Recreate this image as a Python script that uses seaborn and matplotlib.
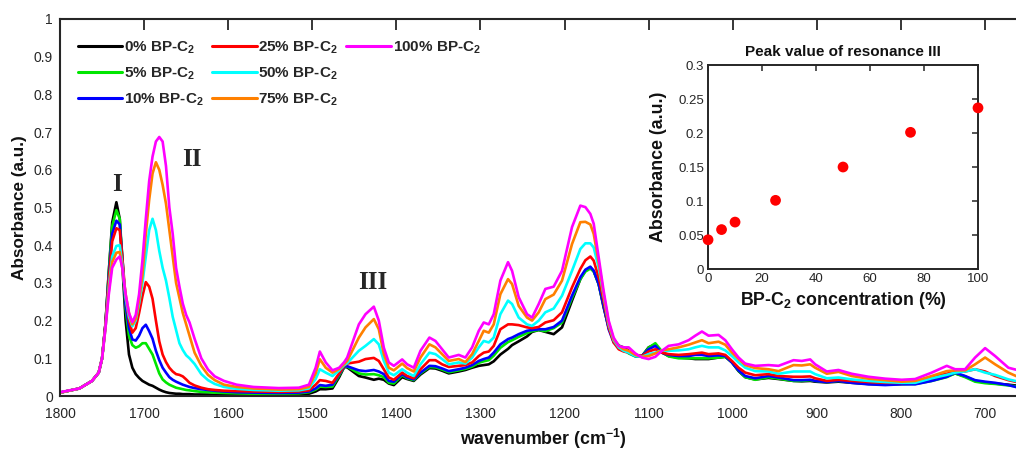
import matplotlib
matplotlib.use("Agg")
import matplotlib.pyplot as plt
from matplotlib.ticker import FuncFormatter, FixedLocator
from matplotlib.lines import Line2D
import seaborn as sns
import pandas as pd
import numpy as np

# ---------------- data ----------------
wavenumber = [
    1800, 1777, 1762, 1754, 1750, 1746, 1742, 1738, 1733, 1729, 1726, 1722, 1718, 1714, 1710,
    1706, 1702, 1698, 1694, 1690, 1686, 1682, 1678, 1674, 1670, 1666, 1662, 1658, 1654, 1650,
    1646, 1640, 1632, 1624, 1616, 1605, 1590, 1570, 1540,
    1516, 1504, 1496, 1491, 1484, 1476, 1468, 1462, 1458.5, 1444.6, 1436.7, 1426.8, 1420.9,
    1414.9, 1409, 1403, 1393.1, 1387.2, 1379.3, 1371.3, 1360.7, 1353.5, 1345.6, 1337.7, 1325.8,
    1317.9, 1309.9, 1302, 1296.1, 1290.1, 1284.2, 1276.3, 1267.2, 1262.4, 1254.5, 1244.6, 1238.6,
    1230.7, 1222.8,
    1212.9, 1203, 1191.1, 1181.2, 1175.2, 1169.3, 1165.3, 1159.4, 1153.5, 1147.5, 1141.6, 1135.6,
    1129.7, 1123.7, 1115.8, 1107.9, 1100, 1092, 1084.1, 1076.2, 1064.3, 1052.4, 1044.5, 1036.6,
    1028.7, 1016.8, 1008.8, 1000.9, 993, 985.1, 973.2,
    957.4, 945.5, 927.6, 917.8, 907.8, 901.9, 888.1, 874.2, 858.4, 838.5, 818.7, 799, 783, 763.3,
    745.4, 735.5, 723.6, 711.7, 699.8, 687.9, 672.1, 660,
]

abs_0 = [
    0.009, 0.02, 0.04, 0.062, 0.10, 0.19, 0.33, 0.46, 0.514, 0.47, 0.35, 0.20, 0.11, 0.075, 0.058,
    0.048, 0.04, 0.035, 0.03, 0.027, 0.022, 0.017, 0.013, 0.010, 0.008, 0.007, 0.006, 0.006, 0.005, 0.005,
    0.005, 0.004, 0.004, 0.004, 0.003, 0.003, 0.003, 0.003, 0.003,
    0.004, 0.006, 0.012, 0.018, 0.018, 0.02, 0.05, 0.077, 0.076, 0.053, 0.049, 0.043, 0.046,
    0.043, 0.033, 0.029, 0.05, 0.045, 0.04, 0.057, 0.074, 0.073, 0.067, 0.06, 0.065,
    0.069, 0.075, 0.08, 0.082, 0.084, 0.092, 0.11, 0.125, 0.135, 0.145, 0.158, 0.17,
    0.175, 0.17,
    0.164, 0.182, 0.253, 0.31, 0.333, 0.341, 0.332, 0.297, 0.235, 0.182, 0.148, 0.133,
    0.129, 0.12, 0.106, 0.106, 0.129, 0.137, 0.115, 0.106, 0.102, 0.1, 0.098, 0.098,
    0.098, 0.102, 0.104, 0.089, 0.066, 0.05, 0.044,
    0.048, 0.045, 0.04, 0.039, 0.04, 0.038, 0.036, 0.038, 0.035, 0.032, 0.031, 0.032, 0.033, 0.042,
    0.052, 0.06, 0.052, 0.04, 0.036, 0.033, 0.03, 0.027,
]
abs_5 = [
    0.009, 0.02, 0.04, 0.062, 0.10, 0.19, 0.33, 0.45, 0.493, 0.47, 0.37, 0.23, 0.16, 0.135, 0.128,
    0.132, 0.14, 0.14, 0.125, 0.11, 0.085, 0.06, 0.044, 0.036, 0.03, 0.026, 0.022, 0.02, 0.018, 0.016,
    0.015, 0.013, 0.011, 0.010, 0.009, 0.008, 0.007, 0.006, 0.006,
    0.007, 0.01, 0.017, 0.025, 0.024, 0.025, 0.055, 0.077, 0.078, 0.06, 0.057, 0.058, 0.055,
    0.05, 0.035, 0.033, 0.055, 0.047, 0.042, 0.06, 0.077, 0.076, 0.07, 0.063, 0.068,
    0.072, 0.078, 0.088, 0.092, 0.095, 0.107, 0.128, 0.143, 0.148, 0.157, 0.167, 0.172,
    0.175, 0.172,
    0.18, 0.195, 0.26, 0.31, 0.33, 0.338, 0.33, 0.297, 0.24, 0.182, 0.15, 0.135,
    0.125, 0.113, 0.105, 0.105, 0.128, 0.14, 0.118, 0.105, 0.1, 0.1, 0.1, 0.1,
    0.1, 0.102, 0.104, 0.09, 0.067, 0.05, 0.043,
    0.05, 0.046, 0.04, 0.04, 0.042, 0.04, 0.037, 0.04, 0.036, 0.033, 0.031, 0.032, 0.032, 0.04,
    0.05, 0.06, 0.05, 0.038, 0.034, 0.032, 0.028, 0.025,
]
abs_10 = [
    0.009, 0.02, 0.04, 0.062, 0.10, 0.19, 0.32, 0.43, 0.465, 0.455, 0.37, 0.24, 0.18, 0.15, 0.147,
    0.16, 0.18, 0.189, 0.172, 0.152, 0.12, 0.095, 0.075, 0.062, 0.05, 0.043, 0.038, 0.034, 0.030, 0.027,
    0.024, 0.021, 0.018, 0.016, 0.014, 0.012, 0.010, 0.009, 0.008,
    0.009, 0.012, 0.02, 0.029, 0.027, 0.03, 0.058, 0.078, 0.079, 0.068, 0.066, 0.069, 0.065,
    0.058, 0.04, 0.038, 0.058, 0.049, 0.044, 0.062, 0.08, 0.079, 0.073, 0.066, 0.071,
    0.075, 0.082, 0.093, 0.098, 0.102, 0.115, 0.137, 0.151, 0.155, 0.164, 0.173, 0.175,
    0.177, 0.177,
    0.183, 0.2, 0.266, 0.315, 0.335, 0.343, 0.332, 0.297, 0.239, 0.177, 0.142, 0.129,
    0.124, 0.115, 0.106, 0.106, 0.124, 0.133, 0.115, 0.109, 0.106, 0.106, 0.109, 0.109,
    0.106, 0.108, 0.106, 0.089, 0.068, 0.053, 0.047,
    0.053, 0.049, 0.042, 0.042, 0.043, 0.04, 0.037, 0.04, 0.035, 0.031, 0.029, 0.031, 0.031, 0.04,
    0.051, 0.062, 0.053, 0.042, 0.038, 0.035, 0.029, 0.022,
]
abs_25 = [
    0.009, 0.02, 0.04, 0.062, 0.10, 0.19, 0.31, 0.41, 0.445, 0.44, 0.37, 0.26, 0.20, 0.168, 0.18,
    0.22, 0.265, 0.302, 0.29, 0.258, 0.20, 0.145, 0.11, 0.09, 0.075, 0.065, 0.058, 0.056, 0.052, 0.044,
    0.035, 0.028, 0.022, 0.018, 0.016, 0.014, 0.013, 0.012, 0.011,
    0.012, 0.015, 0.03, 0.042, 0.04, 0.035, 0.06, 0.08, 0.086, 0.091, 0.098, 0.101, 0.093,
    0.071, 0.049, 0.043, 0.062, 0.053, 0.047, 0.071, 0.095, 0.095, 0.084, 0.077, 0.08,
    0.082, 0.089, 0.106, 0.115, 0.118, 0.133, 0.177, 0.19, 0.19, 0.188, 0.182, 0.18,
    0.183, 0.195,
    0.201, 0.222, 0.288, 0.337, 0.36, 0.37, 0.359, 0.315, 0.253, 0.182, 0.142, 0.124,
    0.118, 0.115, 0.109, 0.106, 0.118, 0.124, 0.115, 0.111, 0.109, 0.111, 0.113, 0.115,
    0.111, 0.113, 0.109, 0.093, 0.075, 0.062, 0.055,
    0.058, 0.053, 0.051, 0.051, 0.052, 0.047, 0.04, 0.043, 0.04, 0.037, 0.035, 0.035, 0.036, 0.051,
    0.059, 0.065, 0.065, 0.071, 0.065, 0.053, 0.042, 0.036,
]
abs_50 = [
    0.009, 0.02, 0.04, 0.062, 0.10, 0.18, 0.29, 0.37, 0.398, 0.40, 0.35, 0.26, 0.21, 0.185, 0.20,
    0.245, 0.30, 0.37, 0.44, 0.47, 0.44, 0.385, 0.34, 0.306, 0.26, 0.21, 0.175, 0.14, 0.122, 0.108,
    0.10, 0.085, 0.058, 0.042, 0.032, 0.024, 0.019, 0.016, 0.014,
    0.015, 0.02, 0.045, 0.071, 0.062, 0.053, 0.068, 0.082, 0.087, 0.12, 0.133, 0.151, 0.137,
    0.093, 0.062, 0.055, 0.071, 0.062, 0.053, 0.084, 0.115, 0.111, 0.098, 0.084, 0.089,
    0.086, 0.102, 0.129, 0.146, 0.142, 0.155, 0.217, 0.253, 0.244, 0.208, 0.19, 0.186,
    0.2, 0.222,
    0.232, 0.266, 0.332, 0.39, 0.405, 0.405, 0.394, 0.341, 0.266, 0.19, 0.148, 0.129,
    0.12, 0.115, 0.106, 0.104, 0.111, 0.115, 0.121, 0.12, 0.121, 0.124, 0.129, 0.133,
    0.129, 0.129, 0.121, 0.106, 0.089, 0.075, 0.066,
    0.065, 0.059, 0.065, 0.065, 0.065, 0.058, 0.047, 0.049, 0.044, 0.04, 0.037, 0.035, 0.035, 0.047,
    0.056, 0.062, 0.065, 0.071, 0.062, 0.056, 0.044, 0.038,
]
abs_75 = [
    0.009, 0.02, 0.04, 0.062, 0.10, 0.18, 0.28, 0.355, 0.38, 0.382, 0.34, 0.27, 0.22, 0.19, 0.205,
    0.255, 0.32, 0.43, 0.52, 0.59, 0.62, 0.60, 0.56, 0.51, 0.44, 0.37, 0.30, 0.26, 0.22, 0.19,
    0.16, 0.115, 0.08, 0.056, 0.042, 0.03, 0.024, 0.02, 0.017,
    0.018, 0.024, 0.06, 0.0975, 0.075, 0.062, 0.072, 0.085, 0.093, 0.155, 0.182, 0.204, 0.177,
    0.111, 0.075, 0.068, 0.086, 0.074, 0.065, 0.102, 0.137, 0.129, 0.111, 0.093, 0.098,
    0.09, 0.111, 0.146, 0.173, 0.168, 0.19, 0.27, 0.31, 0.297, 0.239, 0.208, 0.2,
    0.222, 0.257,
    0.269, 0.306, 0.403, 0.461, 0.462, 0.455, 0.43, 0.355, 0.27, 0.195, 0.151, 0.133,
    0.124, 0.12, 0.109, 0.104, 0.106, 0.113, 0.121, 0.124, 0.129, 0.136, 0.142, 0.148,
    0.14, 0.144, 0.136, 0.115, 0.098, 0.082, 0.074,
    0.071, 0.066, 0.082, 0.081, 0.084, 0.075, 0.059, 0.064, 0.053, 0.046, 0.042, 0.038, 0.04, 0.053,
    0.066, 0.068, 0.068, 0.084, 0.102, 0.084, 0.062, 0.05,
]
abs_100 = [
    0.010, 0.02, 0.04, 0.062, 0.10, 0.18, 0.27, 0.34, 0.362, 0.37, 0.34, 0.27, 0.22, 0.196, 0.215,
    0.27, 0.36, 0.47, 0.57, 0.635, 0.675, 0.687, 0.675, 0.61, 0.50, 0.43, 0.34, 0.29, 0.245, 0.215,
    0.195, 0.152, 0.10, 0.07, 0.052, 0.04, 0.03, 0.024, 0.021,
    0.022, 0.03, 0.075, 0.118, 0.089, 0.068, 0.075, 0.09, 0.102, 0.19, 0.217, 0.237, 0.2,
    0.128, 0.089, 0.08, 0.097, 0.084, 0.075, 0.12, 0.155, 0.146, 0.124, 0.102, 0.109,
    0.102, 0.129, 0.173, 0.195, 0.19, 0.217, 0.306, 0.355, 0.332, 0.262, 0.217, 0.208,
    0.244, 0.284,
    0.29, 0.332, 0.448, 0.505, 0.501, 0.483, 0.457, 0.368, 0.279, 0.2, 0.155, 0.133,
    0.129, 0.129, 0.113, 0.102, 0.098, 0.104, 0.12, 0.133, 0.137, 0.148, 0.16, 0.171,
    0.16, 0.162, 0.148, 0.124, 0.102, 0.086, 0.08,
    0.082, 0.08, 0.095, 0.093, 0.097, 0.084, 0.065, 0.069, 0.059, 0.051, 0.046, 0.043, 0.045, 0.062,
    0.08, 0.071, 0.071, 0.102, 0.127, 0.106, 0.075, 0.068,
]

series_labels = ["0% BP-C$_2$", "5% BP-C$_2$", "10% BP-C$_2$", "25% BP-C$_2$",
                 "50% BP-C$_2$", "75% BP-C$_2$", "100% BP-C$_2$"]
series_colors = ["#000000", "#00e600", "#0000ff", "#ff0000", "#00ffff", "#ff8000", "#ff00ff"]
series_values = [abs_0, abs_5, abs_10, abs_25, abs_50, abs_75, abs_100]

concentration = [0, 5, 10, 25, 50, 75, 100]
peak_III = [0.043, 0.058, 0.069, 0.101, 0.150, 0.201, 0.237]

# ---------------- style ----------------
sns.set_style("white")
plt.rcParams["font.family"] = ["Liberation Sans", "DejaVu Sans"]
plt.rcParams["mathtext.default"] = "regular"
plt.rcParams["axes.edgecolor"] = "#262626"

frames = []
for lab, vals in zip(series_labels, series_values):
    frames.append(pd.DataFrame({"wn": wavenumber, "A": vals, "series": lab}))
df = pd.concat(frames, ignore_index=True)

fig = plt.figure(figsize=(10.16, 4.5), dpi=100)
ax = fig.add_axes([0.0591, 0.12, 0.9517, 0.8378])

sns.lineplot(data=df, x="wn", y="A", hue="series", hue_order=series_labels,
             palette=dict(zip(series_labels, series_colors)), estimator=None,
             sort=False, linewidth=1.9, legend=False, ax=ax)

ax.set_xlim(1800, 650)
ax.set_ylim(0, 1)
ax.xaxis.set_major_locator(FixedLocator(list(range(1800, 650, -100))))
ax.yaxis.set_major_locator(FixedLocator([i / 10 for i in range(11)]))
ax.yaxis.set_major_formatter(FuncFormatter(lambda v, p: "%g" % v))
ax.tick_params(direction="in", length=8, width=1.3, top=True, right=False,
               labelsize=10, colors="#262626")
ax.tick_params(axis="x", pad=8)
ax.tick_params(axis="y", pad=5)
for s in ["left", "bottom", "top"]:
    ax.spines[s].set_linewidth(1.5)
    ax.spines[s].set_color("#262626")
ax.spines["right"].set_visible(False)

ax.set_xlabel("wavenumber (cm$^{-1}$)", fontsize=12.8, fontweight="bold", color="#111111")
ax.set_ylabel("Absorbance (a.u.)", fontsize=12.3, fontweight="bold", color="#111111")
ax.xaxis.set_label_coords(0.5, -0.082)
ax.yaxis.set_label_coords(-0.034, 0.5)

# peak labels
for txt, xw, yv in [("I", 1732, 0.56), ("II", 1643, 0.626), ("III", 1428, 0.30)]:
    ax.text(xw, yv, txt, fontsize=18, fontweight="bold", ha="center", va="center",
            family=["Liberation Serif", "DejaVu Serif"])

# legend (column-major, 3 per column)
handles = [Line2D([], [], color=c, lw=2.2) for c in series_colors]
handles += [Line2D([], [], color="none"), Line2D([], [], color="none")]
labels = series_labels + ["", ""]
leg = ax.legend(handles, labels, ncol=3, loc="upper left",
                bbox_to_anchor=(0.0186, 0.945), frameon=False,
                prop={"weight": "bold", "size": 11}, handlelength=2.9,
                handletextpad=0.12, columnspacing=0.55, labelspacing=0.62,
                borderaxespad=0, borderpad=0)

# ---------------- inset ----------------
axin = fig.add_axes([0.6969, 0.4022, 0.2657, 0.4533])
sns.scatterplot(x=concentration, y=peak_III, color="#ff0000", s=60, edgecolor="none",
                clip_on=False, zorder=5, ax=axin)
axin.set_xlim(0, 100)
axin.set_ylim(0, 0.3)
axin.xaxis.set_major_locator(FixedLocator([0, 20, 40, 60, 80, 100]))
axin.yaxis.set_major_locator(FixedLocator([0, 0.05, 0.1, 0.15, 0.2, 0.25, 0.3]))
axin.yaxis.set_major_formatter(FuncFormatter(lambda v, p: "%g" % v))
axin.tick_params(direction="in", length=4, width=1.1, top=True, right=True,
                 labelsize=9.5, colors="#262626", pad=3)
for s in axin.spines.values():
    s.set_linewidth(1.4)
    s.set_color("#262626")
axin.set_xlabel("BP-C$_2$ concentration (%)", fontsize=12.8, fontweight="bold", color="#111111")
axin.set_ylabel("Absorbance (a.u.)", fontsize=12.8, fontweight="bold", color="#111111")
axin.xaxis.set_label_coords(0.5, -0.105)
axin.yaxis.set_label_coords(-0.152, 0.5)
axin.text(0.5, 1.065, "Peak value of resonance III", transform=axin.transAxes,
          ha="center", va="center", fontsize=11, fontweight="bold", color="#111111")

fig.savefig("out.png", dpi=100)
